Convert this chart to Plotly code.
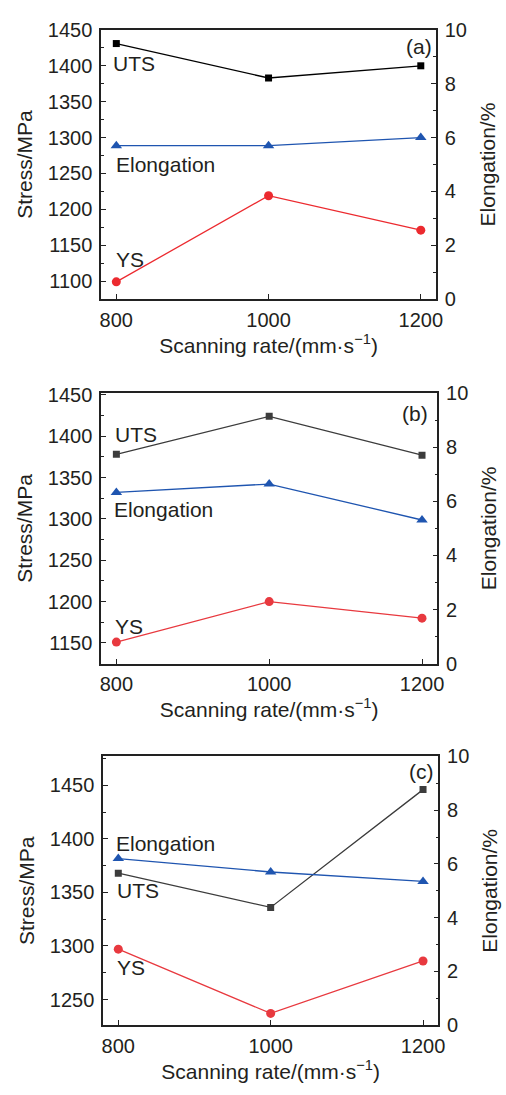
import plotly.graph_objects as go

# ---- data ----
rate = [800, 1000, 1200]

uts_a = [1431, 1383, 1400]
ys_a = [1099, 1219, 1171]
el_a = [5.7, 5.7, 6.0]

uts_b = [1378, 1424, 1377]
ys_b = [1151, 1200, 1180]
el_b = [6.33, 6.64, 5.31]

uts_c = [1368, 1336, 1446]
ys_c = [1297, 1237, 1286]
el_c = [6.2, 5.7, 5.35]

x_ticks = [800, 1000, 1200]
panel_labels = ["(a)", "(b)", "(c)"]

W, H = 506, 1095
FONT = "Liberation Sans, Arial, sans-serif"
TXT = "#231f20"
BLUE = "#1f55b0"

panels = [
    dict(uts=uts_a, ys=ys_a, el=el_a, uts_col="#000000", ys_col="#ec2a2f",
         xdom=(101.7, 442.0), ytop=19.3, ybot=294.0, yrange=[1075, 1450],
         ytick0=1100, ydt=50,
         labels=[("UTS", 112, 54), ("Elongation", 115, 157), ("YS", 115, 254), ("(a)", 409, 36)]),
    dict(uts=uts_b, ys=ys_b, el=el_b, uts_col="#3c3c3c", ys_col="#e8393f",
         xdom=(101.7, 443.3), ytop=390.0, ybot=666.0, yrange=[1125, 1452],
         ytick0=1150, ydt=50,
         labels=[("UTS", 114, 432), ("Elongation", 113, 509), ("YS", 114, 628), ("(b)", 405, 411)]),
    dict(uts=uts_c, ys=ys_c, el=el_c, uts_col="#3c3c3c", ys_col="#e8393f",
         xdom=(103.7, 444.3), ytop=760.7, ybot=1035.0, yrange=[1226, 1477],
         ytick0=1250, ydt=50,
         labels=[("Elongation", 115, 850), ("UTS", 116, 898), ("YS", 116, 976), ("(c)", 413, 776)]),
]

fig = go.Figure()
annotations = []
layout = {}

for i, p in enumerate(panels):
    n = i + 1
    xa = "x" if n == 1 else f"x{n}"
    yl = "y" if n == 1 else f"y{2*n-1}"
    yr = f"y{2*n}"
    xkey = "xaxis" if n == 1 else f"xaxis{n}"
    ylkey = "yaxis" if n == 1 else f"yaxis{2*n-1}"
    yrkey = f"yaxis{2*n}"

    fig.add_trace(go.Scatter(x=rate, y=p["uts"], xaxis=xa, yaxis=yl, mode="lines+markers",
                             line=dict(color=p["uts_col"], width=1.3),
                             marker=dict(symbol="square", size=7, color=p["uts_col"]),
                             showlegend=False))
    fig.add_trace(go.Scatter(x=rate, y=p["ys"], xaxis=xa, yaxis=yl, mode="lines+markers",
                             line=dict(color=p["ys_col"], width=1.3),
                             marker=dict(symbol="circle", size=9, color=p["ys_col"]),
                             showlegend=False))
    fig.add_trace(go.Scatter(x=rate, y=p["el"], xaxis=xa, yaxis=yr, mode="lines+markers",
                             line=dict(color=BLUE, width=1.3),
                             marker=dict(symbol="triangle-up", size=10, color=BLUE),
                             showlegend=False))

    x0, x1 = p["xdom"][0] / W, p["xdom"][1] / W
    y0, y1 = 1 - p["ybot"] / H, 1 - p["ytop"] / H

    axline = dict(showline=True, linecolor="#222", linewidth=1.5, mirror=False,
                  showgrid=False, zeroline=False, ticks="inside", tickcolor="#222",
                  tickwidth=1.2, ticklen=5,
                  tickfont=dict(family=FONT, size=20, color=TXT))

    layout[xkey] = dict(axline, domain=[x0, x1], anchor=yl, range=[780, 1220],
                        tickvals=x_ticks, ticklabelstandoff=2,
                        title=dict(text="Scanning rate/(mm·s<sup>−1</sup>)",
                                   font=dict(family=FONT, size=21, color=TXT), standoff=3),
                        mirror=True)
    layout[ylkey] = dict(axline, domain=[y0, y1], anchor=xa, range=p["yrange"],
                         tick0=p["ytick0"], dtick=p["ydt"], ticklabelstandoff=3,
                         minor=dict(ticks="inside", ticklen=3, tickcolor="#222", dtick=25, tick0=p["ytick0"]),
                         title=dict(text="Stress/MPa", font=dict(family=FONT, size=21, color=TXT), standoff=9))
    layout[yrkey] = dict(axline, domain=[y0, y1], anchor=xa, overlaying=yl, side="right",
                         range=[0, 10], tick0=0, dtick=2, ticklabelstandoff=3,
                         minor=dict(ticks="inside", ticklen=3, tickcolor="#222", dtick=1, tick0=0),
                         title=dict(text="Elongation/%", font=dict(family=FONT, size=21, color=TXT), standoff=14))

    for txt, px, py in p["labels"]:
        annotations.append(dict(text=txt, xref="paper", yref="paper", x=px / W, y=1 - py / H,
                                xanchor="left", yanchor="middle", showarrow=False,
                                font=dict(family=FONT, size=21, color=TXT)))

fig.update_layout(width=W, height=H, margin=dict(l=0, r=0, t=0, b=0),
                  paper_bgcolor="white", plot_bgcolor="white",
                  annotations=annotations, **layout)

fig.write_html("out.html")
